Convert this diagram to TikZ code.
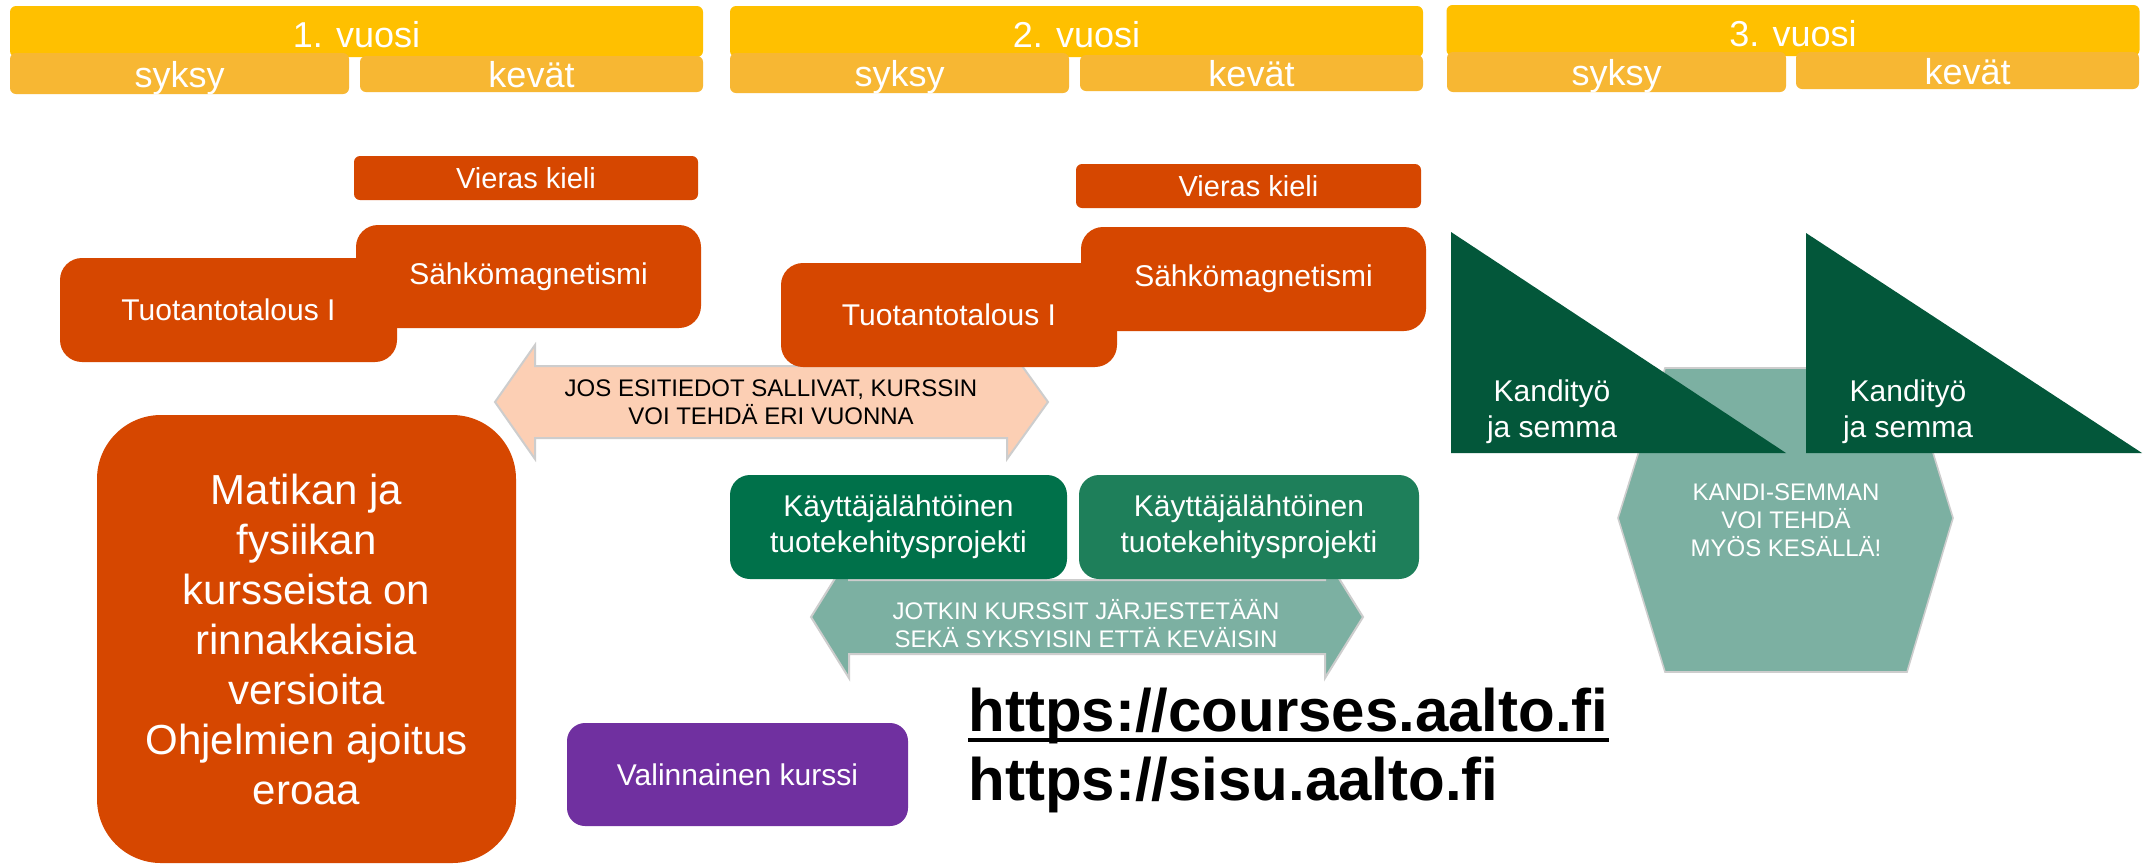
\documentclass[tikz,border=0pt]{standalone}
\usepackage{color}
\usepackage{fontspec}
\setmainfont{Liberation Sans}
\usepackage{tikz}

\definecolor{yellowbar}{HTML}{FFC000}
\definecolor{seasonorange}{HTML}{F7B733}
\definecolor{courseorange}{HTML}{D64700}
\definecolor{peachfill}{HTML}{FCCFB4}
\definecolor{arrowedge}{HTML}{CDCDCD}
\definecolor{projgreen}{HTML}{00714A}
\definecolor{projgreenlight}{HTML}{1E7F5A}
\definecolor{thesisgreen}{HTML}{03573A}
\definecolor{semmateal}{HTML}{7CB0A2}
\definecolor{electivepurple}{HTML}{7030A0}

\begin{document}
\begin{tikzpicture}[x=0.5pt,y=-0.5pt,
    vuosi/.style={fill=yellowbar,rounded corners=3pt,inner sep=0pt,text=white,minimum width=346.5pt,minimum height=25.5pt,font=\fontsize{18}{22}\selectfont,text height=15.5pt,text depth=0pt},
    kausi/.style={fill=seasonorange,rounded corners=3pt,inner sep=0pt,text=white,font=\fontsize{18}{22}\selectfont,text height=13.5pt,text depth=0pt},
    kurssi/.style={fill=courseorange,rounded corners=11pt,inner sep=0pt,text=white,font=\fontsize{15}{18}\selectfont},
    hanke/.style={rounded corners=10pt,inner sep=0pt,text=white,minimum height=52pt,align=center,font=\fontsize{15}{18}\selectfont},
    note/.style={inner sep=0pt,align=center,text=white,font=\fontsize{12}{14}\selectfont},
    urli/.style={anchor=base west,inner sep=0pt,font=\fontsize{30}{36}\selectfont\bfseries}]
    \fill[white] (0,0) rectangle (2150,864);
    \useasboundingbox (0,0) rectangle (2150,864);

    \node[vuosi] (v1) at (356.5,31.5) {1. vuosi};
    \node[vuosi] (v2) at (1076.5,31.5) {2. vuosi};
    \node[vuosi] (v3) at (1793,30.5) {3. vuosi};
    \node[kausi,minimum width=169.5pt,minimum height=20.5pt] (s1) at (179.5,73.5) {syksy};
    \node[kausi,minimum width=171.5pt,minimum height=18pt] (k1) at (531.5,74) {kevät};
    \node[kausi,minimum width=169.5pt,minimum height=20pt] (s2) at (899.5,73) {syksy};
    \node[kausi,minimum width=171.5pt,minimum height=18pt] (k2) at (1251.5,73) {kevät};
    \node[kausi,minimum width=169.5pt,minimum height=20pt] (s3) at (1616.5,72) {syksy};
    \node[kausi,minimum width=171.5pt,minimum height=18.5pt] (k3) at (1967.5,70.5) {kevät};

    \filldraw[fill=peachfill,draw=arrowedge,line width=1pt] (495,402) -- (535,345) -- (535,366) -- (1007,366) -- (1007,345) -- (1048,402) -- (1007,459) -- (1007,438) -- (535,438) -- (535,459) -- cycle;
    \node[note,text=black] (esitiedot) at (771,402) {JOS ESITIEDOT SALLIVAT, KURSSIN\\VOI TEHDÄ ERI VUONNA};

    \filldraw[fill=semmateal,draw=arrowedge,line width=1pt] (811,617) -- (849,556) -- (849,580) -- (1325,580) -- (1325,556) -- (1363,617) -- (1325,678) -- (1325,654) -- (849,654) -- (849,678) -- cycle;
    \node[note] (molemmat) at (1086,624) {JOTKIN KURSSIT JÄRJESTETÄÄN\\SEKÄ SYKSYISIN ETTÄ KEVÄISIN};

    \filldraw[fill=semmateal,draw=arrowedge,line width=0.8pt] (1665,368) -- (1907,368) -- (1953,518) -- (1907,672) -- (1665,672) -- (1618,518) -- cycle;
    \node[note] (kesa) at (1786,520) {KANDI-SEMMAN\\VOI TEHDÄ\\MYÖS KESÄLLÄ!};
    \fill[thesisgreen] (1451,232) -- (1786,453) -- (1451,453) -- cycle;
    \fill[thesisgreen] (1806,233) -- (2142,453) -- (1806,453) -- cycle;
    \node[note,font=\fontsize{15}{18}\selectfont] (kandi1) at (1552,412) {Kandityö\\ja semma};
    \node[note,font=\fontsize{15}{18}\selectfont] (kandi2) at (1908,412) {Kandityö\\ja semma};

    \node[kurssi,rounded corners=3pt,minimum width=172pt,minimum height=22pt,font=\fontsize{14.5}{17}\selectfont] (kieli1) at (526,178) {Vieras kieli};
    \node[kurssi,rounded corners=3pt,minimum width=172.5pt,minimum height=22pt,font=\fontsize{14.5}{17}\selectfont] (kieli2) at (1248.5,186) {Vieras kieli};
    \node[kurssi,minimum width=168.5pt,minimum height=52pt] (tuta1) at (228.5,310) {Tuotantotalous I};
    \node[kurssi,minimum width=172.5pt,minimum height=51.5pt] (sahko1) at (528.5,276.5) {Sähkömagnetismi};
    \node[kurssi,minimum width=168pt,minimum height=52pt] (tuta2) at (949,315) {Tuotantotalous I};
    \node[kurssi,minimum width=172.5pt,minimum height=52pt] (sahko2) at (1253.5,279) {Sähkömagnetismi};

    \node[hanke,fill=projgreen,minimum width=168.5pt] (kayt1) at (898.5,527) {Käyttäjälähtöinen\\tuotekehitysprojekti};
    \node[hanke,fill=projgreenlight,minimum width=170pt] (kayt2) at (1249,527) {Käyttäjälähtöinen\\tuotekehitysprojekti};

    \node[kurssi,minimum width=209.5pt,minimum height=224pt,rounded corners=32pt,align=center,font=\fontsize{21}{25}\selectfont] (matikka) at (306.5,639) {Matikan ja\\fysiikan\\kursseista on\\rinnakkaisia\\versioita\\Ohjelmien ajoitus\\eroaa};

    \node[kurssi,fill=electivepurple,rounded corners=9pt,minimum width=170.5pt,minimum height=51.5pt] (valinnainen) at (737.5,774.5) {Valinnainen kurssi};

    \node[urli] (courses) at (968,731) {https://courses.aalto.fi};
    \draw[line width=2pt] ([yshift=-4.5pt]courses.base west) -- ([yshift=-4.5pt]courses.base east);
    \node[urli] (sisu) at (968,800) {https://sisu.aalto.fi};
\end{tikzpicture}
\end{document}
